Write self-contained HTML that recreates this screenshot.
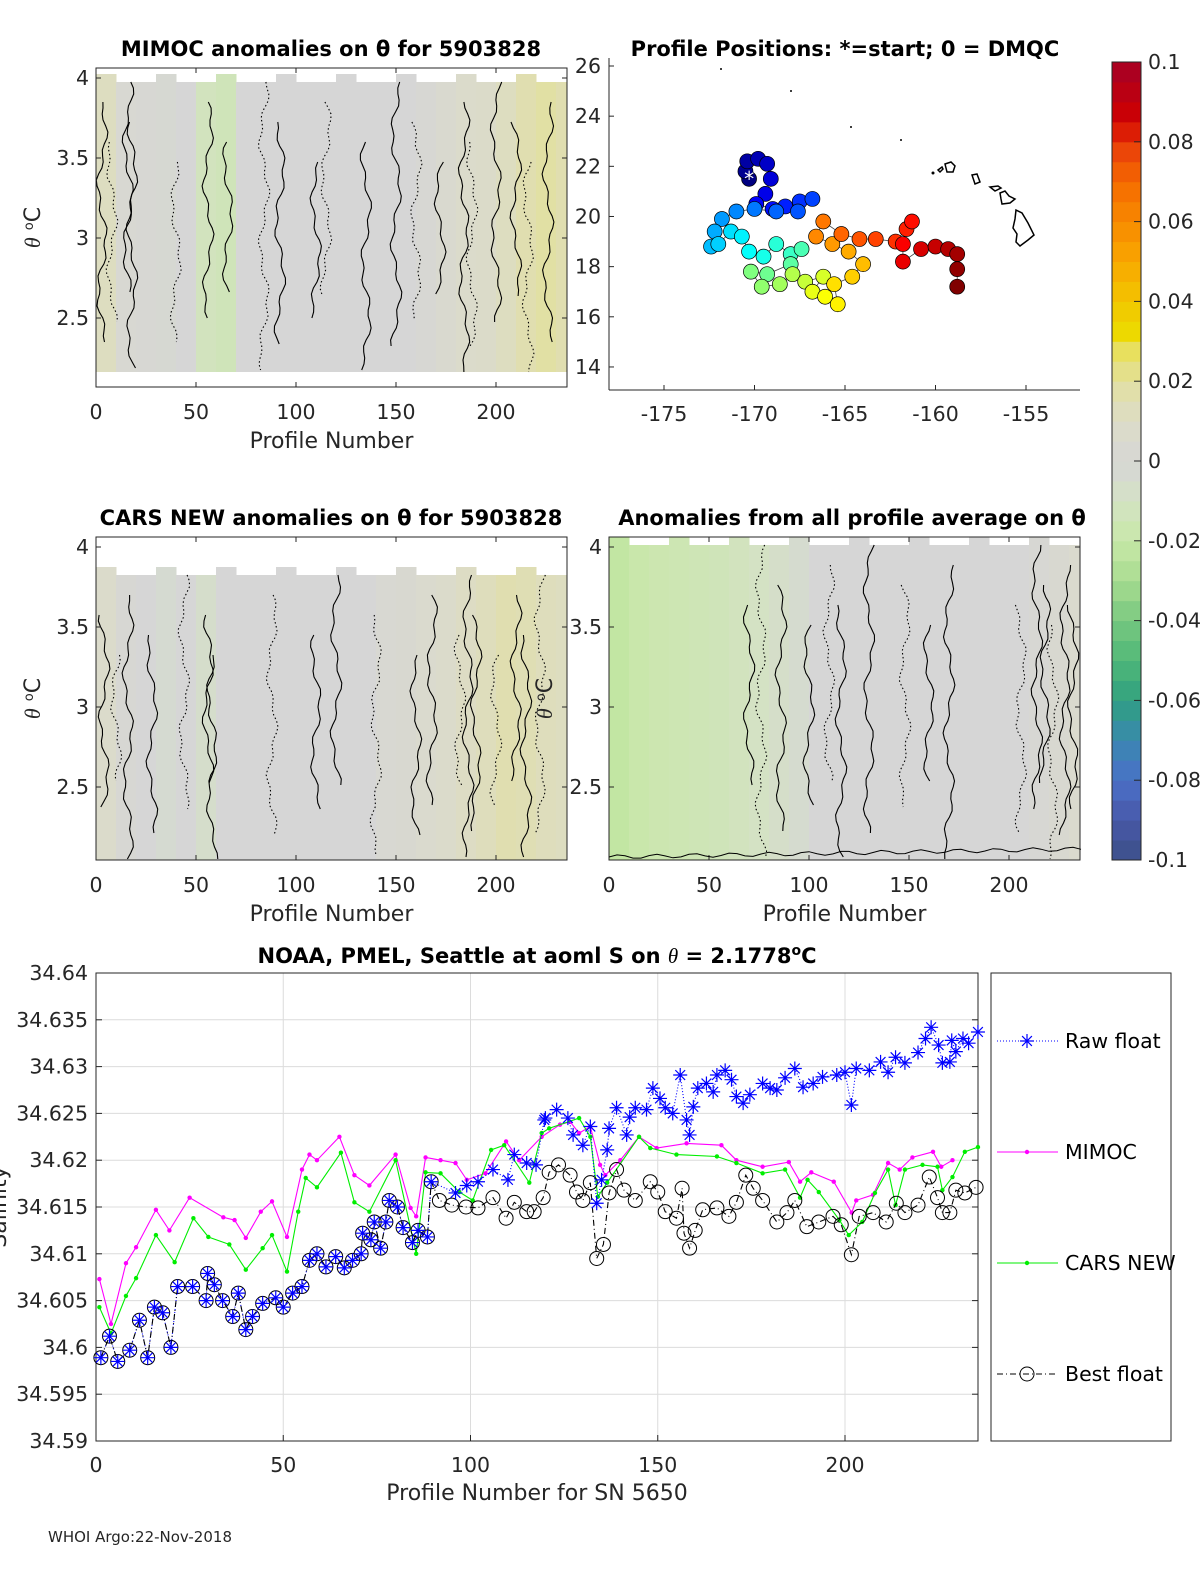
<!DOCTYPE html>
<html><head><meta charset="utf-8"><style>
html,body{margin:0;padding:0;background:#fff;width:1200px;height:1575px;overflow:hidden}
svg text{font-family:"DejaVu Sans","Liberation Sans",sans-serif;fill:#262626}
.t{font-size:20.5px}.ttl{font-size:21px;font-weight:bold;fill:#000}.lab{font-size:22px}
</style></head><body>
<svg id="fig" xmlns="http://www.w3.org/2000/svg" width="1200" height="1575" viewBox="0 0 1200 1575">
<defs>
<clipPath id="c-tl"><rect x="96" y="60" width="471" height="327"/></clipPath>
<clipPath id="c-ml"><rect x="96" y="537" width="471" height="323"/></clipPath>
<clipPath id="c-mr"><rect x="609" y="537" width="471" height="323"/></clipPath>
</defs>
<g id="tl"></g>
<g id="ml"></g>
<g id="mr"></g>
<g id="map"></g>
<g id="cb"></g>
<g id="bot"></g>
<text x="48" y="1542" style="font-size:15px" fill="#000">WHOI Argo:22-Nov-2018</text>
</svg>
<script>
// ---------- data ----------
const binStart = [0,10,20,30,40,50,60,70,80,90,100,110,120,130,140,150,160,170,180,190,200,210,220,230];
const mimocAnom = [0.012,0.003,0.002,-0.002,0.0,-0.012,-0.014,0.0,0,0,0,0,0,0,0,0,0.002,0.005,0.008,0.009,0.012,0.016,0.019,0.016];
const carsAnom = [0.008,0.002,0,-0.003,0,-0.006,0,0,0,0,0,0,0,0,0.003,0.004,0.006,0.008,0.011,0.013,0.016,0.015,0.013,0.012];
const avgAnom = [-0.022,-0.019,-0.017,-0.016,-0.015,-0.014,-0.012,-0.01,-0.007,-0.004,0,0,0,0,0,0,0,0,0,0,0,0.002,0.004,0.006];
const tlContours = [3,8,16,18,40,56,66,84,92,110,115,135,150,160,172,184,188,200,210,216,226];
const mlContours = [4,10,16,28,44,56,58,88,110,120,140,160,168,182,186,190,200,210,215,222];
const mrContours = [70,76,86,100,110,116,130,148,160,170,206,214,218,222,228,232];
const mapLon = [-170.3,-170.5,-170.4,-169.8,-169.3,-169.1,-169.4,-169.9,-169.0,-168.3,-167.5,-166.8,-167.6,-168.8,-170,-171,-171.8,-172.2,-172.4,-172,-171.3,-170.7,-170.3,-169.5,-168.8,-168,-167.4,-168.0,-169.3,-170.2,-169.6,-168.6,-167.9,-167.2,-166.2,-166.8,-166.1,-165.4,-165.6,-164.6,-164.0,-164.8,-165.7,-166.6,-166.2,-165.2,-164.2,-163.3,-162.2,-161.6,-161.3,-161.8,-161.8,-160.8,-160,-159.3,-158.8,-158.8,-158.8];
const mapLat = [21.5,21.8,22.2,22.3,22.1,21.5,20.9,20.5,20.3,20.4,20.6,20.7,20.2,20.2,20.3,20.2,19.9,19.4,18.8,18.9,19.4,19.2,18.6,18.4,18.9,18.5,18.7,18.1,17.7,17.8,17.2,17.3,17.7,17.4,17.6,17.0,16.8,16.5,17.3,17.6,18.1,18.6,18.9,19.2,19.8,19.3,19.1,19.1,19.0,19.5,19.8,18.9,18.2,18.7,18.8,18.7,18.5,17.9,17.2];
const mimocP = [0.9,4,8,10.7,16,19.6,25,34,37,40,44,47,51,55,57,59,65,69,73,80,84,85.5,88,92,96,99,104,109.5,113,119,123.9,126.6,129,132,134.6,136,140,145,149.7,157.7,167,171,178,185,188,191,197,201.8,203,207.5,211.5,214.6,218,223.5,225.7,228.7];
const mimocV = [34.6073,34.6025,34.609,34.6107,34.6147,34.6125,34.616,34.6139,34.6136,34.6117,34.6145,34.6156,34.6118,34.619,34.6206,34.620,34.6225,34.6184,34.6173,34.6206,34.6149,34.614,34.6203,34.620,34.6197,34.6179,34.6186,34.622,34.620,34.6225,34.6238,34.6241,34.6229,34.6236,34.6195,34.6184,34.620,34.6225,34.6213,34.6218,34.6216,34.620,34.6193,34.6198,34.6177,34.6187,34.6177,34.6144,34.6157,34.6163,34.6197,34.619,34.6203,34.6209,34.6193,34.620];
const carsP = [0.9,4,8,10.7,16,21,26,30,35.6,40,44.5,47,51,54,56,59,65.4,69,73,80,85.5,88,92,97,100.6,105.5,109,115.7,119,121,129,132,134,136.5,145,148,155,165.8,171,178,184,188,190,193,198.5,201,204.6,208,211.5,213.5,216,220.7,224.7,226,228.7,232,235.5];
const carsV = [34.6043,34.6015,34.6055,34.6074,34.612,34.6091,34.6138,34.6118,34.611,34.6083,34.6106,34.612,34.6081,34.6145,34.6181,34.6171,34.6208,34.6155,34.6145,34.620,34.610,34.6187,34.6186,34.6166,34.6157,34.6211,34.6216,34.6176,34.6229,34.6234,34.6245,34.6225,34.6161,34.6176,34.6225,34.6213,34.6206,34.6204,34.6197,34.6186,34.619,34.616,34.6179,34.6166,34.6136,34.612,34.6134,34.6165,34.619,34.6152,34.619,34.6195,34.6193,34.6168,34.6182,34.6209,34.6214];
const bestP = [1.3,3.6,5.8,9,11.6,13.8,15.6,17.8,20,21.8,25.8,29.4,29.8,31.6,33.8,36.5,38,40,41.8,44.5,48,50,52.5,55,57,59,61.4,64,66.3,68.5,70.8,71.2,73.4,74.3,76,77.4,78.3,80.5,82,84.5,86,88.5,89.5,91.7,95,98.8,102,106,109.5,111.7,115,117,119.4,121,123.5,126.6,128.3,130,132,133.7,135.5,137,139,141,144,148,150,152,155,156.5,157,158.5,160,162,165.8,169,171,173.5,175.5,178,181.8,184.5,186.6,189.8,193,196.8,199,201.7,203.8,207.5,211,213.7,216,219.5,222.5,224.7,226,228,229.6,232,235];
const bestV = [34.5989,34.6012,34.5985,34.5997,34.6029,34.5989,34.6043,34.6037,34.600,34.6065,34.6065,34.605,34.6079,34.6067,34.605,34.6033,34.6058,34.6019,34.6033,34.6047,34.6053,34.6043,34.6058,34.6065,34.6093,34.610,34.6086,34.6097,34.6085,34.6093,34.610,34.6122,34.6115,34.6134,34.6106,34.6134,34.6157,34.615,34.6128,34.6112,34.6125,34.6118,34.6177,34.6157,34.6152,34.615,34.6149,34.616,34.6138,34.6155,34.6145,34.6145,34.616,34.6187,34.6195,34.6184,34.6166,34.6157,34.6176,34.6095,34.611,34.6165,34.619,34.6168,34.6157,34.6177,34.6166,34.6145,34.6138,34.617,34.6122,34.6106,34.6125,34.6147,34.6149,34.614,34.6155,34.6184,34.617,34.6157,34.6134,34.6144,34.6157,34.6129,34.6134,34.614,34.6131,34.6099,34.614,34.6144,34.6134,34.6154,34.6144,34.6152,34.6182,34.616,34.6144,34.6144,34.6168,34.6165,34.6171];
const rawLateP = [96,99,102,106,110,111.7,115,117.5,119.7,120,123,126,127.4,130,132,133.7,135,136.5,137,139,141.7,142.5,144,147,148.7,150.6,152,154,156,157.7,158.5,159.5,160.7,163,164.8,165.8,168,169.7,171,172.8,174.6,178,180,181.8,184,186.6,188.8,191.5,194,197.8,200,201.7,203,206.5,209.5,211.5,213.5,216,219.5,221.5,223,225,226,228,228.5,229.6,231.5,233,235.5];
const rawLateV = [34.6165,34.6173,34.6177,34.619,34.6179,34.6206,34.6197,34.6195,34.6243,34.6245,34.6254,34.6245,34.6227,34.6216,34.6236,34.6154,34.6179,34.6211,34.6234,34.6256,34.6227,34.6246,34.6256,34.6254,34.6277,34.6266,34.6256,34.625,34.6291,34.6243,34.6227,34.6257,34.6277,34.6282,34.6273,34.6291,34.6296,34.6286,34.6268,34.6261,34.627,34.6282,34.6277,34.6275,34.6288,34.6298,34.6278,34.6282,34.6289,34.6291,34.6294,34.6259,34.6298,34.6296,34.6305,34.6294,34.631,34.6304,34.6315,34.633,34.6342,34.6323,34.6304,34.6305,34.6328,34.6316,34.633,34.6325,34.6337];
const salTicks = [34.59,34.595,34.6,34.605,34.61,34.615,34.62,34.625,34.63,34.635,34.64];
const salTickLabels = ["34.59","34.595","34.6","34.605","34.61","34.615","34.62","34.625","34.63","34.635","34.64"];
const profTicks = [0,50,100,150,200];
const thetaTicks = [2.5,3,3.5,4];
const lonTicks = [-175,-170,-165,-160,-155];
const latTicks = [14,16,18,20,22,24,26];
const cbTicks = [-0.1,-0.08,-0.06,-0.04,-0.02,0,0.02,0.04,0.06,0.08,0.1];
const cbLabels = ["-0.1","-0.08","-0.06","-0.04","-0.02","0","0.02","0.04","0.06","0.08","0.1"];

// ---------- helpers ----------
const NS='http://www.w3.org/2000/svg';
function mk(parent,tag,attrs,txt){const e=document.createElementNS(NS,tag);for(const k in attrs)e.setAttribute(k,attrs[k]);if(txt!==undefined)e.textContent=txt;parent.appendChild(e);return e;}
const stops=[[-0.1,[60,80,136]],[-0.09,[72,88,168]],[-0.08,[74,112,200]],[-0.07,[58,136,176]],[-0.06,[48,160,128]],[-0.05,[80,184,120]],[-0.04,[120,200,128]],[-0.03,[168,220,144]],[-0.02,[200,232,168]],[-0.01,[212,226,196]],[0,[214,214,214]],[0.01,[220,220,200]],[0.02,[226,224,160]],[0.028,[232,224,90]],[0.03,[235,224,0]],[0.04,[242,197,0]],[0.05,[249,168,0]],[0.06,[248,138,0]],[0.07,[245,106,0]],[0.08,[232,58,10]],[0.085,[208,0,0]],[0.1,[165,0,38]]];
function cmap(v){v=Math.max(-0.1,Math.min(0.1,v));for(let i=0;i<stops.length-1;i++){const a=stops[i],b=stops[i+1];if(v<=b[0]){const t=(v-a[0])/(b[0]-a[0]);const c=a[1].map((x,j)=>Math.round(x+(b[1][j]-x)*t));return `rgb(${c})`;}}return 'rgb(165,0,38)';}
function jet(t){const r=Math.min(1,Math.max(0,1.5-Math.abs(4*t-3))),g=Math.min(1,Math.max(0,1.5-Math.abs(4*t-2))),b=Math.min(1,Math.max(0,1.5-Math.abs(4*t-1)));return `rgb(${Math.round(r*255)},${Math.round(g*255)},${Math.round(b*255)})`;}

// ---------- heatmap panels ----------
function heatPanel(id,x0,y0,w,h,anom,contours,title,titleX,ylabX,dataTop,dataBot,seed){
  const g=document.getElementById(id);
  const gc=mk(g,'g',{'clip-path':`url(#c-${id})`});
  const px=p=>x0+p*2;
  const ty=th=>y0+10+(4-th)*160;
  anom.forEach((a,i)=>{
    const r=mk(gc,'rect',{x:px(binStart[i]),y:dataTop+((i*7)%3===0?-8:0),width:20.5,height:dataBot-dataTop+((i*7)%3===0?8:0),fill:cmap(a)});
    
    
  });
  contours.forEach((p,k)=>{
    let d='';const top=dataTop+((k*37+seed)%5)*20,bot=dataBot-((k*53+seed)%4)*25;
    for(let y=top;y<=bot;y+=6){const x=px(p)+4*Math.sin(y/17+k*1.3)+2*Math.sin(y/5+k);d+=(d?'L':'M')+x.toFixed(1)+','+y;}
    const c=mk(gc,'path',{d:d,fill:'none',stroke:'#000','stroke-width':1.1,'stroke-dasharray':(k%3===1)?'1.5,2.5':'none'});
    
    
  });
  mk(g,'rect',{x:x0,y:y0,width:w,height:h,fill:'none',stroke:'#262626','stroke-width':1});
  thetaTicks.forEach(t=>{const y=ty(t);mk(g,'line',{x1:x0,x2:x0+5,y1:y,y2:y,stroke:'#262626'});mk(g,'line',{x1:x0+w,x2:x0+w-5,y1:y,y2:y,stroke:'#262626'});
    const tx=mk(g,'text',{x:x0-7,y:y+7,'text-anchor':'end',class:'t'},String(t));});
  profTicks.forEach(p=>{const x=px(p);mk(g,'line',{x1:x,x2:x,y1:y0+h,y2:y0+h-5,stroke:'#262626'});mk(g,'line',{x1:x,x2:x,y1:y0,y2:y0+5,stroke:'#262626'});
    const tx=mk(g,'text',{x:x,y:y0+h+32,'text-anchor':'middle',class:'t'},String(p));});
  const xl=mk(g,'text',{x:x0+w/2,y:y0+h+61,'text-anchor':'middle',class:'lab'},'Profile Number');
  const tt=mk(g,'text',{x:titleX,y:y0-12,'text-anchor':'middle',class:'ttl'},title);
  const yl=mk(g,'text',{x:ylabX,y:y0+h/2,'text-anchor':'middle',class:'lab',transform:`rotate(-90 ${ylabX} ${y0+h/2})`});
  yl.innerHTML='<tspan font-style="italic" font-family="Liberation Serif">θ</tspan> <tspan baseline-shift="super" font-size="13">o</tspan>C';
}
heatPanel('tl',96,68,471,319,mimocAnom,tlContours,'MIMOC anomalies on θ  for 5903828',331,40,82,372,1);
heatPanel('ml',96,537,471,323,carsAnom,mlContours,'CARS NEW anomalies on θ for 5903828',331,40,575,860,2);
heatPanel('mr',609,537,471,323,avgAnom,mrContours,'Anomalies from all profile average on θ',852,552,545,860,3);
(function(){const g=document.getElementById('mr');let d='';for(let p=0;p<=236;p+=4){const y=860-3-(p/236)*8-2*Math.sin(p/3);d+=(d?'L':'M')+(609+2*p)+','+y.toFixed(1);}mk(g,'path',{d:d,fill:'none',stroke:'#000','stroke-width':1});})();

// ---------- map ----------
(function(){
  const g=document.getElementById('map');
  const mx=lon=>664+(lon+175)*18.1, my=lat=>66+(26-lat)*25.08;
  mk(g,'line',{x1:609,x2:609,y1:58,y2:390,stroke:'#262626'});
  mk(g,'line',{x1:609,x2:1080,y1:390,y2:390,stroke:'#262626'});
  latTicks.forEach(l=>{const y=my(l);mk(g,'line',{x1:609,x2:614,y1:y,y2:y,stroke:'#262626'});const t=mk(g,'text',{x:601,y:y+7,'text-anchor':'end',class:'t'},String(l));});
  lonTicks.forEach(l=>{const x=mx(l);mk(g,'line',{x1:x,x2:x,y1:390,y2:385,stroke:'#262626'});const t=mk(g,'text',{x:x,y:421,'text-anchor':'middle',class:'t'},String(l));});
  const tt=mk(g,'text',{x:845,y:56,'text-anchor':'middle',class:'ttl'},'Profile Positions: *=start; 0 = DMQC');
  [[721,69,1],[791,91,1],[851,127,1],[901,140,1],[933,173,1.5]].forEach(s=>mk(g,'circle',{cx:s[0],cy:s[1],r:s[2],fill:'#000'}));
  const isl=['M945,164 l6,-2 l4,4 l-2,6 l-6,0 z','M938,170 l4,-3 l1,2 l-3,3 z','M972,175 l5,-1 l3,8 l-5,2 z','M990,187 l8,-1 l3,2 l-6,3 z','M1000,193 l5,-2 l4,5 l6,3 l-5,4 l-8,1 l-1,-5 z','M1016,210 l6,3 l6,10 l6,12 l-6,5 l-8,6 l-4,-4 l1,-8 l-4,-6 l2,-9 z'];
  isl.forEach(d=>{const p=mk(g,'path',{d:d,fill:'#fff',stroke:'#000','stroke-width':1.5});});
  let d='';mapLon.forEach((l,i)=>{d+=(i?'L':'M')+mx(l)+','+my(mapLat[i]);});
  mk(g,'path',{d:d,fill:'none',stroke:'#444','stroke-width':0.8});
  const n=mapLon.length;
  mapLon.forEach((l,i)=>{const c=mk(g,'circle',{cx:mx(l),cy:my(mapLat[i]),r:7.5,fill:jet(i/(n-1)),stroke:'#000','stroke-width':0.7});});
  mk(g,'text',{x:mx(mapLon[0]),y:my(mapLat[0])+7,'text-anchor':'middle',style:'font-size:20px;fill:#fff'},'*');
})();

// ---------- colorbar ----------
(function(){
  const g=document.getElementById('cb');
  const x0=1112,w=29,top=62,bot=860;const cy=v=>bot-(v+0.1)/0.2*(bot-top);
  for(let v=-0.1;v<0.0999;v+=0.005){const r=mk(g,'rect',{x:x0,y:cy(v+0.005),width:w,height:(bot-top)/40+0.5,fill:cmap(v+0.0025)});}
  mk(g,'rect',{x:x0,y:top,width:w,height:bot-top,fill:'none',stroke:'#262626'});
  cbTicks.forEach((v,i)=>{const y=cy(v);mk(g,'line',{x1:x0+w-7,x2:x0+w,y1:y,y2:y,stroke:'#262626'});const t=mk(g,'text',{x:1148,y:y+7,class:'t'},cbLabels[i]);});
})();

// ---------- bottom chart ----------
(function(){
  const g=document.getElementById('bot');
  const bx=p=>96+p*3.745, by=v=>973+(34.64-v)*9360;
  mk(g,'rect',{x:96,y:973,width:882,height:468,fill:'#fff'});
  salTicks.forEach((v,i)=>{const y=by(v);mk(g,'line',{x1:96,x2:978,y1:y,y2:y,stroke:'#dcdcdc'});mk(g,'line',{x1:96,x2:102,y1:y,y2:y,stroke:'#262626'});mk(g,'line',{x1:978,x2:972,y1:y,y2:y,stroke:'#262626'});
    const t=mk(g,'text',{x:88,y:y+7,'text-anchor':'end',class:'t'},salTickLabels[i]);});
  profTicks.forEach(p=>{const x=bx(p);mk(g,'line',{x1:x,x2:x,y1:973,y2:1441,stroke:'#dcdcdc'});mk(g,'line',{x1:x,x2:x,y1:1441,y2:1435,stroke:'#262626'});
    const t=mk(g,'text',{x:x,y:1472,'text-anchor':'middle',class:'t'},String(p));});
  mk(g,'rect',{x:96,y:973,width:882,height:468,fill:'none',stroke:'#262626'});
  function line(P,V,stroke,dash,name){let d='';P.forEach((p,i)=>{d+=(i?'L':'M')+bx(p).toFixed(1)+','+by(V[i]).toFixed(1);});const l=mk(g,'path',{d:d,fill:'none',stroke:stroke,'stroke-width':1.1,'stroke-dasharray':dash});}
  function star(x,y,s,c){mk(g,'path',{d:`M${x-s},${y}H${x+s}M${x},${y-s}V${y+s}M${x-s*.7},${y-s*.7}L${x+s*.7},${y+s*.7}M${x-s*.7},${y+s*.7}L${x+s*.7},${y-s*.7}`,stroke:c,'stroke-width':1.2});}
  line(mimocP,mimocV,'#ff00ff','none','mimoc-line');
  mimocP.forEach((p,i)=>{const c=mk(g,'circle',{cx:bx(p),cy:by(mimocV[i]),r:2.2,fill:'#ff00ff'});});
  line(carsP,carsV,'#00ee00','none','cars-line');
  carsP.forEach((p,i)=>{const c=mk(g,'circle',{cx:bx(p),cy:by(carsV[i]),r:2.2,fill:'#00ee00'});});
  const rawP=[],rawV=[];bestP.forEach((p,i)=>{if(p<90){rawP.push(p);rawV.push(bestV[i]);}});rawLateP.forEach((p,i)=>{rawP.push(p);rawV.push(rawLateV[i]);});
  line(rawP,rawV,'#0000ff','1,2','raw-float-line');
  line(bestP,bestV,'#000','6,3,1,3','best-float-line');
  bestP.forEach((p,i)=>{const c=mk(g,'circle',{cx:bx(p),cy:by(bestV[i]),r:7,fill:'none',stroke:'#000','stroke-width':1});});
  rawP.forEach((p,i)=>star(bx(p),by(rawV[i]),7,'#0000ff'));
  const tt=mk(g,'text',{x:537,y:963,'text-anchor':'middle',class:'ttl'});tt.innerHTML='NOAA, PMEL, Seattle at aoml S on <tspan font-style="italic" font-weight="normal" font-family="Liberation Serif">θ</tspan> = 2.1778<tspan baseline-shift="super" font-size="14">o</tspan>C';
  
  const xl=mk(g,'text',{x:537,y:1500,'text-anchor':'middle',class:'lab'},'Profile Number for SN 5650');
  const yl=mk(g,'text',{x:6,y:1207,'text-anchor':'middle',class:'lab',transform:'rotate(-90 6 1207)'},'Salinity');
  const lg=mk(g,'g',{});
  mk(lg,'rect',{x:991,y:973,width:180,height:468,fill:'#fff',stroke:'#262626'});
  const ents=[['Raw float',1041],['MIMOC',1152],['CARS NEW',1263],['Best float',1374]];
  ents.forEach((e,i)=>{const y=e[1];const it=mk(lg,'g',{});
    const col=['#0000ff','#ff00ff','#00ee00','#000'][i];const dash=['1,2','none','none','6,3,1,3'][i];
    mk(it,'line',{x1:997,x2:1058,y1:y,y2:y,stroke:col,'stroke-dasharray':dash});
    if(i===0){star(1027,y,7,'#0000ff');}else if(i===3){mk(it,'circle',{cx:1027,cy:y,r:7,fill:'none',stroke:'#000'});}else{mk(it,'circle',{cx:1027,cy:y,r:2.2,fill:col});}
    mk(it,'text',{x:1065,y:y+7,class:'t',style:'fill:#000'},e[0]);});
})();
</script>
</body></html>
